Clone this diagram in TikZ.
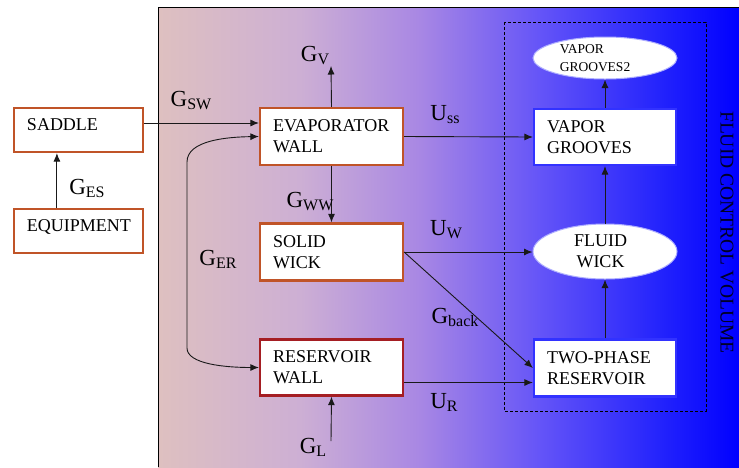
\documentclass[tikz,border=0pt]{standalone}
\usepackage{fontspec}
\setmainfont{Liberation Serif}
\usetikzlibrary{arrows.meta,shapes.geometric}
\definecolor{brbox}{RGB}{192,84,40}
\definecolor{rdbox}{RGB}{165,30,35}
\definecolor{blbox}{RGB}{50,50,255}
\definecolor{ga}{RGB}{222,192,192}
\definecolor{gb}{RGB}{205,175,212}
\definecolor{gc}{RGB}{168,135,228}
\definecolor{gd}{RGB}{100,84,248}
\definecolor{ge}{RGB}{35,35,252}
\definecolor{gf}{RGB}{0,0,255}
\newcommand\sublbl[2]{#1\raisebox{-3pt}{\fontsize{16}{16}\selectfont #2}}
\tikzset{
  box/.style={draw=brbox, line width=2.2pt, fill=white, align=left,
    inner xsep=13pt, inner ysep=0pt, font=\fontsize{18}{21}\selectfont},
  bbox/.style={box, draw=blbox},
  ell/.style={ellipse, draw=blbox!40, line width=1pt, fill=white, inner sep=0pt, align=center},
  arr/.style={draw=black!90, line width=0.9pt, -{Latex[length=8.5pt,width=7pt]}},
  lbl/.style={font=\fontsize{23}{23}\selectfont, inner sep=0pt}
}
\begin{document}
\begin{tikzpicture}[x=1pt,y=-1pt]
\useasboundingbox (0,0) rectangle (739,467);
\fill[white] (0,0) rectangle (739,467);
% gradient background
\shade[left color=ga,right color=gb] (158,7) rectangle (300.5,467);
\shade[left color=gb,right color=gc] (300,7) rectangle (420.5,467);
\shade[left color=gc,right color=gd] (420,7) rectangle (540.5,467);
\shade[left color=gd,right color=ge] (540,7) rectangle (660.5,467);
\shade[left color=ge,right color=gf] (660,7) rectangle (739,467);
\draw[line width=1pt] (158,467) -- (158,7) -- (739,7);
% dashed control volume
\draw[dashed, line width=0.8pt, dash pattern=on 3pt off 2pt] (504,22) rectangle (706,411);
\node[font=\fontsize{19.5}{19.5}\selectfont, text=black!85!blue, rotate=-90, inner sep=0pt] (fcv) at (727,232.5) {FLUID CONTROL VOLUME};
% boxes
\node[box, text width=103pt, minimum height=44pt, text height=6pt, text depth=6pt] (saddle) at (78.5,130) {SADDLE};
\node[box, text width=103pt, minimum height=44pt, text height=6pt, text depth=6pt] (equip) at (78.5,231) {EQUIPMENT};
\node[box, text width=117pt, minimum height=57pt] (evap) at (331.5,136.5) {EVAPORATOR\\WALL};
\node[box, text width=117pt, minimum height=57pt] (solid) at (331.5,252) {SOLID\\WICK};
\node[box, draw=rdbox, text width=117pt, minimum height=56pt] (resw) at (331.5,367.5) {RESERVOIR\\WALL};
\node[bbox, text width=116pt, minimum height=56pt] (vg) at (605,137) {VAPOR\\GROOVES};
\node[bbox, text width=116pt, minimum height=57pt] (tpr) at (605,368) {TWO-PHASE\\RESERVOIR};
\node[ell, minimum width=144pt, minimum height=42pt, font=\fontsize{13.5}{18}\selectfont, align=left] (vg2) at (605,58) {\hspace*{-20pt}VAPOR\\\hspace*{-20pt}GROOVES2};
\node[ell, minimum width=144pt, minimum height=55pt, font=\fontsize{18}{21}\selectfont] (fw) at (605,251.5) {\hspace*{-9pt}FLUID\\\hspace*{-9pt}WICK};
% free ends
\coordinate (gvtop) at (331,66);
\coordinate (glbot) at (331,441);
\coordinate (erTop) at (187,162);
\coordinate (erBot) at (187,348);
% connectors
\draw[arr] ([xshift=44pt]equip.north west) -- ([xshift=44pt]saddle.south west);
\draw[arr] ([yshift=7pt]saddle.east) -- ([yshift=7pt]saddle.east -| evap.west);
\draw[arr] (evap.north) -- (gvtop);
\draw[arr] (evap.south) -- (solid.north);
\draw[arr] (glbot) -- (resw.south);
\draw[arr, {Latex[length=8.5pt,width=7pt]}-{Latex[length=8.5pt,width=7pt]}] (evap.west) .. controls (228,137) and (187,140) .. (erTop) -- (erBot) .. controls (187,364) and (225,367.5) .. (resw.west);
\draw[arr] (evap.east) -- (vg.west);
\draw[arr] (solid.east) -- (solid.east -| fw.west);
\draw[arr] (solid.east) -- (tpr.west);
\draw[arr] ([yshift=-15pt]resw.east) -- ([yshift=-15pt]resw.east -| tpr.west);
\draw[arr] (vg.north) -- (vg2.south);
\draw[arr] (fw.north) -- (vg.south);
\draw[arr] (tpr.north) -- (fw.south);
% labels
\node[lbl] (lgv) at (315,56) {\sublbl{G}{V}};
\node[lbl] (lgsw) at (191,101) {\sublbl{G}{SW}};
\node[lbl] (lges) at (87,188) {\sublbl{G}{ES}};
\node[lbl] (lgww) at (310,201) {\sublbl{G}{WW}};
\node[lbl] (lger) at (218,259) {\sublbl{G}{ER}};
\node[lbl] (lgl) at (313,447) {\sublbl{G}{L}};
\node[lbl] (luss) at (445,115) {\sublbl{U}{ss}};
\node[lbl] (luw) at (446,230) {\sublbl{U}{W}};
\node[lbl] (lgback) at (455,317) {\sublbl{G}{back}};
\node[lbl] (lur) at (444,402) {\sublbl{U}{R}};
\end{tikzpicture}
\end{document}
